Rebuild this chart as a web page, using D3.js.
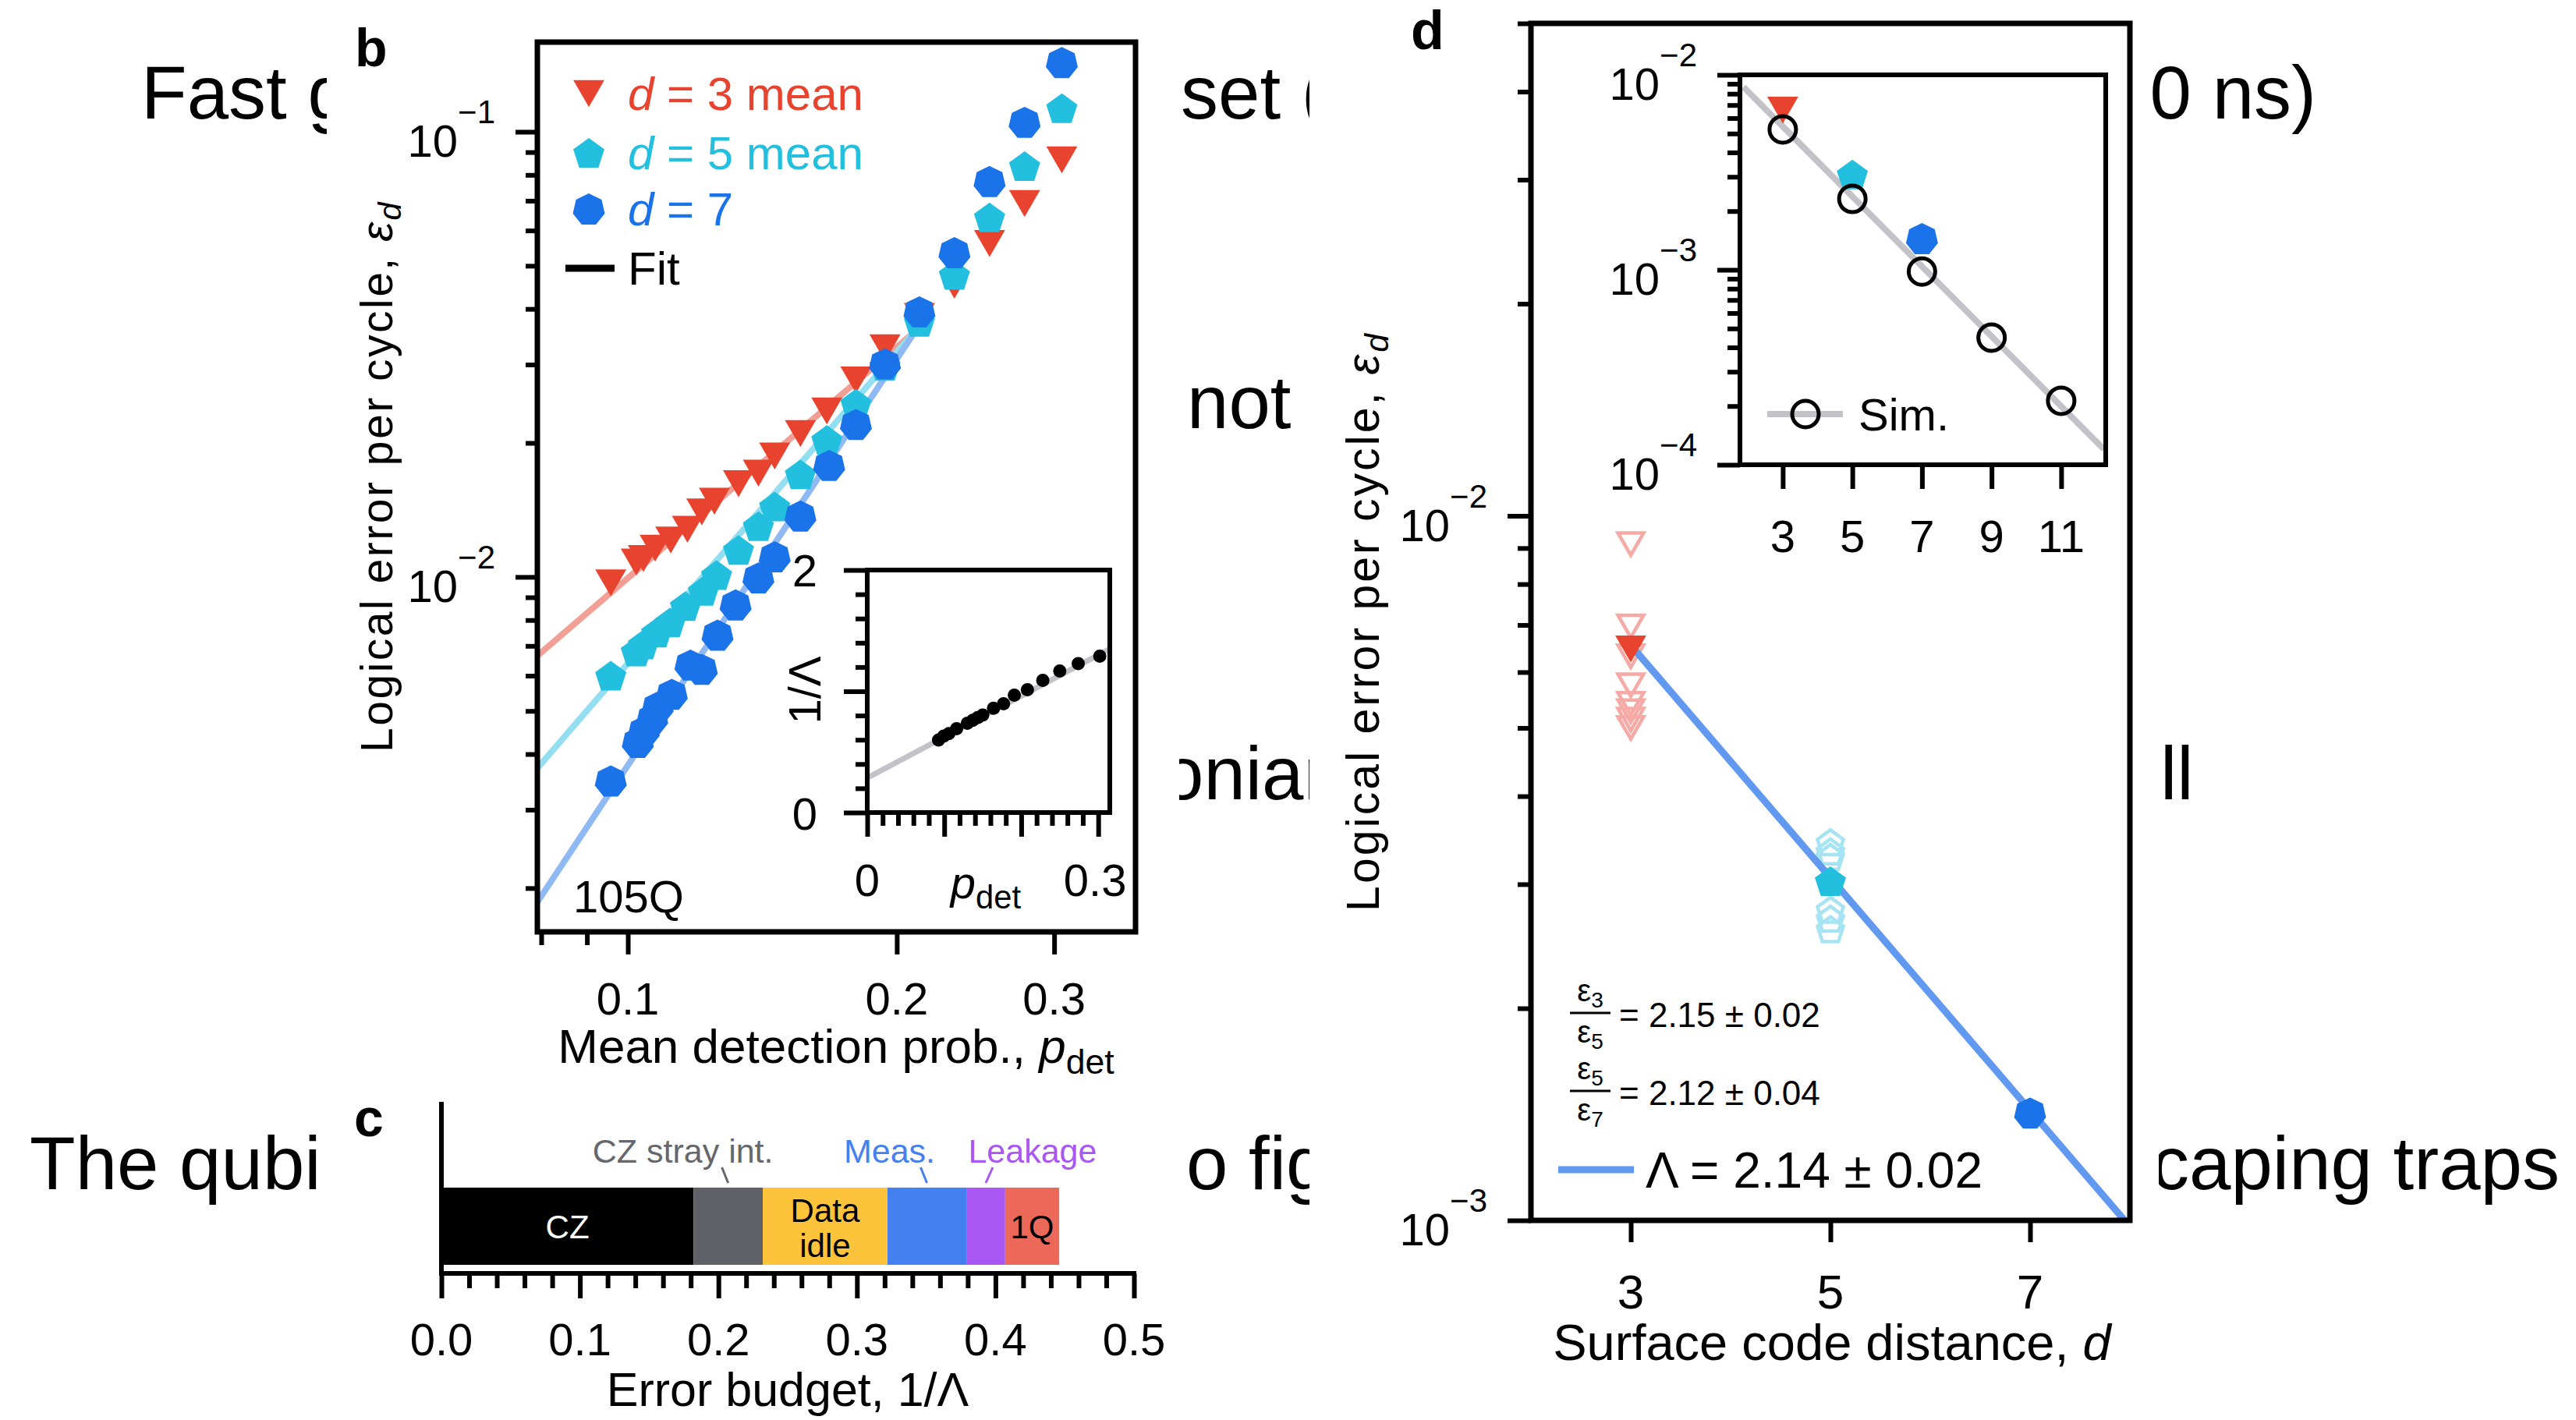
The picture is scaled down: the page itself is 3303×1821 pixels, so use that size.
<!DOCTYPE html>
<html>
<head>
<meta charset="utf-8">
<script src="https://cdn.jsdelivr.net/npm/d3@7"></script>
<style>
html, body { margin: 0; padding: 0; background: #fff; }
svg { display: block; font-family: "Liberation Sans", Arial, Helvetica, sans-serif; }
</style>
</head>
<body>
<svg id="chart" width="3303" height="1821"></svg>
<script>
// panel b: [p_det, eps_d]
const d3Mean = [[0.0957, 0.0097], [0.1022, 0.0108], [0.1041, 0.0110], [0.1073, 0.0116], [0.1117, 0.0121],
  [0.1166, 0.0128], [0.121, 0.0140], [0.125, 0.0148], [0.133, 0.0162], [0.140, 0.0171], [0.146, 0.0187],
  [0.156, 0.0210], [0.167, 0.0236], [0.180, 0.0277], [0.194, 0.0327], [0.212, 0.0385], [0.232, 0.0452],
  [0.254, 0.0561], [0.278, 0.0690], [0.306, 0.0865]];
const d5Mean = [[0.0957, 0.0060], [0.1022, 0.0068], [0.1041, 0.00705], [0.1077, 0.0075], [0.1115, 0.0079],
  [0.116, 0.0086], [0.1215, 0.0093], [0.1257, 0.0101], [0.133, 0.0115], [0.140, 0.0130], [0.146, 0.0144],
  [0.156, 0.0170], [0.167, 0.0203], [0.180, 0.0245], [0.194, 0.0298], [0.212, 0.0374], [0.232, 0.0477],
  [0.254, 0.0642], [0.278, 0.0837], [0.306, 0.113]];
const d7Data = [[0.0957, 0.00348], [0.1026, 0.00425], [0.1042, 0.00450], [0.1065, 0.00480], [0.108, 0.00510],
  [0.112, 0.00545], [0.1175, 0.00634], [0.121, 0.0062], [0.126, 0.0074], [0.132, 0.00865], [0.140, 0.00995],
  [0.146, 0.0111], [0.156, 0.0137], [0.168, 0.0178], [0.180, 0.0220], [0.194, 0.0301], [0.212, 0.0394],
  [0.232, 0.0535], [0.254, 0.0773], [0.278, 0.105], [0.306, 0.143]];
const fitD3 = [[0.0792, 0.00665], [0.212, 0.0363]];
const fitD5 = [[0.0792, 0.00372], [0.217, 0.0387]];
const fitD7 = [[0.0792, 0.00186], [0.214, 0.0379]];
const legendB = ["3 mean", "5 mean", "7", "Fit"];
const xTicksB = [0.1, 0.2, 0.3];
const xTickLabelsB = ["0.1", "0.2", "0.3"];

// inset of b: 1/Lambda vs p_det
const insetP = [0.0926, 0.0993, 0.106, 0.116, 0.13, 0.137, 0.1435, 0.15, 0.164, 0.177, 0.191, 0.208, 0.228, 0.25, 0.274, 0.302];
const insetInvLambda = [0.598, 0.63, 0.651, 0.691, 0.737, 0.761, 0.783, 0.804, 0.86, 0.897, 0.968, 1.013, 1.09, 1.167, 1.229, 1.29];
const insetFit = [[0, 0.285], [0.315, 1.35]];

// panel c: error budget
const budgetLabels = ["CZ", "CZ stray int.", "Data idle", "Meas.", "Leakage", "1Q"];
const budgetValues = [0.182, 0.050, 0.090, 0.057, 0.028, 0.039];
const budgetColors = ["#000000", "#5f6065", "#fdc33b", "#4480f0", "#a957f2", "#ec695a"];
const budgetTicks = [0, 0.1, 0.2, 0.3, 0.4, 0.5];
const budgetTickLabels = ["0.0", "0.1", "0.2", "0.3", "0.4", "0.5"];

// panel d
const distances = [3, 5, 7];
const meanEps = [0.00647, 0.00303, 0.00142];
const hollowD3 = [0.00912, 0.00697, 0.00632, 0.00575, 0.00541, 0.00528, 0.00514, 0.0050];
const hollowD5 = [0.00344, 0.00334, 0.00328, 0.00276, 0.00268, 0.00259];
const lambdaFit = [[3.05, 0.00643], [8, 0.00098]];
const ratioLabels = [["3", "5", "= 2.15 ± 0.02"], ["5", "7", "= 2.12 ± 0.04"]];
const lambdaLabel = "Λ = 2.14 ± 0.02";
const simD = [3, 5, 7, 9, 11];
const simEps = [0.00525, 0.00231, 0.00098, 0.000449, 0.000213];
const simLine = [[1.87, 0.00867], [12.23, 0.00012]];

const pageText = ["Fast g", "set (", "0 ns)", "not", "onian", "ll", "The qubi", "o fig", "caping traps"];

const RED = "#e8432e", CYAN = "#22bfdf", BLUE = "#1a73e8";
const svg = d3.select("#chart");

// page text behind the panels
const pagePos = [[181, 152, "start"], [1514, 152, "start"], [2970, 152, "end"], [1522, 549, "start"],
  [1490, 1025, "start"], [2770, 1025, "start"], [38, 1525, "start"], [1521, 1525, "start"], [3282, 1525, "end"]];
const page = svg.append("g").attr("font-size", 96).attr("fill", "#000");
pageText.forEach((s, i) => {
  page.append("text").attr("x", pagePos[i][0]).attr("y", pagePos[i][1])
    .attr("text-anchor", pagePos[i][2]).text(s);
});
svg.append("rect").attr("x", 419).attr("y", 0).attr("width", 1512 - 419).attr("height", 1821).attr("fill", "#fff");
svg.append("rect").attr("x", 1679).attr("y", 0).attr("width", 2746 - 1679).attr("height", 1821).attr("fill", "#fff");
svg.append("rect").attr("x", 2746).attr("y", 1300).attr("width", 22).attr("height", 521).attr("fill", "#fff");

function polygon(n, r, down) {
  const pts = d3.range(n).map(i => {
    const a = (down ? Math.PI / 2 : -Math.PI / 2) + i * 2 * Math.PI / n;
    return [r * Math.cos(a), r * Math.sin(a)];
  });
  const off = (d3.max(pts, p => p[1]) + d3.min(pts, p => p[1])) / 2;
  return "M" + pts.map(p => p[0].toFixed(2) + "," + (p[1] - off).toFixed(2)).join("L") + "Z";
}
const tri = polygon(3, 23, true), pent = polygon(5, 21), hept = polygon(7, 21);

function ticks(g, axisFn, scale, values, size, tx, ty) {
  const a = g.append("g").attr("transform", `translate(${tx},${ty})`)
    .call(axisFn(scale).tickValues(values).tickSize(size).tickSizeOuter(0).tickFormat(""));
  a.select(".domain").remove();
  a.selectAll("line").attr("stroke", "#000").attr("stroke-width", 6);
}
function powLabel(g, x, y, exp) {
  const t = g.append("text").attr("x", x).attr("y", y + 32).attr("text-anchor", "end").attr("font-size", 58);
  t.append("tspan").text("10");
  t.append("tspan").attr("dy", -43).attr("font-size", 42).text("−" + exp);
}
function pdet(t, size) {
  t.append("tspan").attr("font-style", "italic").text("p");
  t.append("tspan").attr("font-size", size * 0.72).attr("dy", size * 0.22).text("det");
}
function epsLabel(t, size) {
  t.append("tspan").text("Logical error per cycle, ");
  t.append("tspan").attr("font-style", "italic").text("ε");
  t.append("tspan").attr("font-style", "italic").attr("font-size", size * 0.72).attr("dy", size * 0.2).text("d");
}
function minors(decades) {
  const out = [];
  decades.forEach(dec => d3.range(2, 10).forEach(k => out.push(k * dec)));
  return out;
}

// ---------------- panel b ----------------
const gb = svg.append("g");
const bx = d3.scaleLog().domain([0.0792, 0.37]).range([689, 1456]);
const by = d3.scaleLog().domain([0.001595, 0.159]).range([1195, 54]);
gb.append("text").attr("x", 455).attr("y", 85).attr("font-size", 68).attr("font-weight", "bold").text("b");

const lineB = d3.line().x(d => bx(d[0])).y(d => by(d[1]));
[[fitD3, "#f2a095"], [fitD5, "#93def0"], [fitD7, "#8fb9f3"]].forEach(f => {
  gb.append("path").attr("d", lineB(f[0])).attr("fill", "none").attr("stroke", f[1]).attr("stroke-width", 8);
});
[[d3Mean, tri, RED], [d5Mean, pent, CYAN], [d7Data, hept, BLUE]].forEach(s => {
  gb.append("g").selectAll("path").data(s[0]).enter().append("path")
    .attr("d", s[1]).attr("fill", s[2])
    .attr("transform", d => `translate(${bx(d[0])},${by(d[1])})`);
});

ticks(gb, d3.axisLeft, by, [0.01, 0.1], 28, 689, 0);
ticks(gb, d3.axisLeft, by, minors([0.001, 0.01]), 15, 689, 0);
ticks(gb, d3.axisBottom, bx, xTicksB, 29, 0, 1195);
ticks(gb, d3.axisBottom, bx, [0.08, 0.09], 17, 0, 1195);
gb.append("rect").attr("x", 689).attr("y", 54).attr("width", 1456 - 689).attr("height", 1195 - 54)
  .attr("fill", "none").attr("stroke", "#000").attr("stroke-width", 7);
powLabel(gb, 635, by(0.1), 1);
powLabel(gb, 635, by(0.01), 2);
xTicksB.forEach((v, i) => {
  gb.append("text").attr("x", bx(v)).attr("y", 1301).attr("text-anchor", "middle").attr("font-size", 58).text(xTickLabelsB[i]);
});
const xlb = gb.append("text").attr("x", 1072).attr("y", 1363).attr("text-anchor", "middle").attr("font-size", 62);
xlb.append("tspan").text("Mean detection prob., ");
pdet(xlb, 62);
const ylb = gb.append("text").attr("transform", "translate(503,611) rotate(-90)")
  .attr("text-anchor", "middle").attr("font-size", 57).attr("letter-spacing", 2.5);
epsLabel(ylb, 57);
gb.append("text").attr("x", 735).attr("y", 1170).attr("font-size", 58).text("105Q");

// legend b
const legY = [120, 196, 268, 344];
[[tri, RED], [pent, CYAN], [hept, BLUE]].forEach((m, i) => {
  gb.append("path").attr("d", m[0]).attr("fill", m[1]).attr("transform", `translate(755,${legY[i]})`);
  const t = gb.append("text").attr("x", 805).attr("y", legY[i] + 21).attr("font-size", 60).attr("fill", m[1]);
  t.append("tspan").attr("font-style", "italic").text("d");
  t.append("tspan").text(" = " + legendB[i]);
});
gb.append("line").attr("x1", 725).attr("x2", 788).attr("y1", legY[3]).attr("y2", legY[3])
  .attr("stroke", "#000").attr("stroke-width", 9);
gb.append("text").attr("x", 805).attr("y", legY[3] + 21).attr("font-size", 60).text(legendB[3]);

// inset of b
const ix = d3.scaleLinear().domain([0, 0.315]).range([1112, 1423]);
const iy = d3.scaleLinear().domain([0, 2]).range([1042, 731]);
gb.append("rect").attr("x", 1112).attr("y", 731).attr("width", 311).attr("height", 311).attr("fill", "#fff");
gb.append("path").attr("d", d3.line().x(d => ix(d[0])).y(d => iy(d[1]))(insetFit))
  .attr("stroke", "#c2c2c8").attr("stroke-width", 7).attr("fill", "none");
gb.append("g").selectAll("circle").data(insetP).enter().append("circle")
  .attr("cx", d => ix(d)).attr("cy", (d, i) => iy(insetInvLambda[i])).attr("r", 8.5).attr("fill", "#000");
ticks(gb, d3.axisLeft, iy, [0, 1, 2], 30, 1112, 0);
ticks(gb, d3.axisLeft, iy, [0.2, 0.4, 0.6, 0.8, 1.2, 1.4, 1.6, 1.8], 15, 1112, 0);
ticks(gb, d3.axisBottom, ix, [0, 0.1, 0.2, 0.3], 31, 0, 1042);
ticks(gb, d3.axisBottom, ix, d3.range(1, 15).filter(k => k % 5 !== 0).map(k => k * 0.02), 17, 0, 1042);
gb.append("rect").attr("x", 1112).attr("y", 731).attr("width", 311).attr("height", 311)
  .attr("fill", "none").attr("stroke", "#000").attr("stroke-width", 6);
[[2, 752], [0, 1064]].forEach(l => {
  gb.append("text").attr("x", 1032).attr("y", l[1]).attr("text-anchor", "middle").attr("font-size", 58).text(l[0]);
});
gb.append("text").attr("transform", "translate(1052,885) rotate(-90)").attr("text-anchor", "middle")
  .attr("font-size", 58).text("1/Λ");
gb.append("text").attr("x", ix(0)).attr("y", 1149).attr("text-anchor", "middle").attr("font-size", 58).text("0");
gb.append("text").attr("x", ix(0.3) - 4).attr("y", 1149).attr("text-anchor", "middle").attr("font-size", 58).text("0.3");
pdet(gb.append("text").attr("x", 1264).attr("y", 1152).attr("text-anchor", "middle").attr("font-size", 58), 58);

// ---------------- panel c ----------------
const gc = svg.append("g");
const cxs = d3.scaleLinear().domain([0, 0.5]).range([566, 1454]);
gc.append("text").attr("x", 454).attr("y", 1457).attr("font-size", 68).attr("font-weight", "bold").text("c");
let acc = 0;
const segs = budgetValues.map((v, i) => { const s = { x0: acc, x1: acc + v, i: i }; acc += v; return s; });
gc.selectAll("rect.seg").data(segs).enter().append("rect")
  .attr("x", d => cxs(d.x0)).attr("width", d => cxs(d.x1) - cxs(d.x0))
  .attr("y", 1523).attr("height", 99).attr("fill", d => budgetColors[d.i]);
gc.append("line").attr("x1", 566).attr("x2", 566).attr("y1", 1413).attr("y2", 1636)
  .attr("stroke", "#000").attr("stroke-width", 6);
gc.append("line").attr("x1", 563).attr("x2", 1457).attr("y1", 1633).attr("y2", 1633)
  .attr("stroke", "#000").attr("stroke-width", 6);
ticks(gc, d3.axisBottom, cxs, budgetTicks, 32, 0, 1633);
ticks(gc, d3.axisBottom, cxs, d3.range(1, 25).filter(k => k % 5 !== 0).map(k => k * 0.02), 19, 0, 1633);
budgetTicks.forEach((v, i) => {
  gc.append("text").attr("x", cxs(v)).attr("y", 1738).attr("text-anchor", "middle").attr("font-size", 58).text(budgetTickLabels[i]);
});
gc.append("text").attr("x", 1010).attr("y", 1803).attr("text-anchor", "middle").attr("font-size", 61).text("Error budget, 1/Λ");
const mid = d => (cxs(d.x0) + cxs(d.x1)) / 2;
gc.append("text").attr("x", mid(segs[0])).attr("y", 1588).attr("text-anchor", "middle")
  .attr("font-size", 42).attr("fill", "#fff").text(budgetLabels[0]);
const di = budgetLabels[2].split(" ");
gc.append("text").attr("x", mid(segs[2])).attr("y", 1567).attr("text-anchor", "middle").attr("font-size", 42).text(di[0]);
gc.append("text").attr("x", mid(segs[2])).attr("y", 1612).attr("text-anchor", "middle").attr("font-size", 42).text(di[1]);
gc.append("text").attr("x", mid(segs[5])).attr("y", 1588).attr("text-anchor", "middle").attr("font-size", 42).text(budgetLabels[5]);
[[1, "#66676b", -58, -8], [3, "#4480f0", -48, -8], [4, "#a957f2", 60, 9]].forEach(a => {
  const s = segs[a[0]], m = mid(s);
  gc.append("text").attr("x", m + a[2]).attr("y", 1491).attr("text-anchor", "middle")
    .attr("font-size", 43).attr("fill", a[1]).text(budgetLabels[a[0]]);
  gc.append("line").attr("x1", m + a[3]).attr("x2", m).attr("y1", 1497).attr("y2", 1517)
    .attr("stroke", a[1]).attr("stroke-width", 3);
});

// ---------------- panel d ----------------
const gd = svg.append("g");
const dx = d3.scaleLinear().domain([2, 8]).range([1963, 2731]);
const dy = d3.scaleLog().domain([0.001, 0.05]).range([1565, 30]);
gd.append("text").attr("x", 1809).attr("y", 63).attr("font-size", 70).attr("font-weight", "bold").text("d");
gd.append("clipPath").attr("id", "clipD").append("rect")
  .attr("x", 1963).attr("y", 30).attr("width", 768).attr("height", 1535);

const triH = polygon(3, 19, true), pentH = polygon(5, 17.5);
gd.append("g").selectAll("path").data(hollowD3).enter().append("path")
  .attr("d", triH).attr("fill", "none").attr("stroke", "#f5aaa6").attr("stroke-width", 4.5)
  .attr("transform", d => `translate(${dx(3)},${dy(d)})`);
gd.append("g").selectAll("path").data(hollowD5).enter().append("path")
  .attr("d", pentH).attr("fill", "none").attr("stroke", "#a6e4f3").attr("stroke-width", 4.5)
  .attr("transform", d => `translate(${dx(5)},${dy(d)})`);
gd.append("path").attr("clip-path", "url(#clipD)")
  .attr("d", d3.line().x(d => dx(d[0])).y(d => dy(d[1]))(lambdaFit))
  .attr("fill", "none").attr("stroke", "#6199f0").attr("stroke-width", 9);
const shapesD = [[tri, RED], [pent, CYAN], [hept, BLUE]];
distances.forEach((dd, i) => {
  gd.append("path").attr("d", shapesD[i][0]).attr("fill", shapesD[i][1])
    .attr("transform", `translate(${dx(dd)},${dy(meanEps[i])})`);
});

ticks(gd, d3.axisLeft, dy, [0.001, 0.01], 30, 1963, 0);
ticks(gd, d3.axisLeft, dy, minors([0.001]).concat([0.02, 0.03, 0.04, 0.05]), 17, 1963, 0);
ticks(gd, d3.axisBottom, dx, distances, 28, 0, 1565);
gd.append("rect").attr("x", 1963).attr("y", 30).attr("width", 768).attr("height", 1535)
  .attr("fill", "none").attr("stroke", "#000").attr("stroke-width", 7);
powLabel(gd, 1907, dy(0.01), 2);
powLabel(gd, 1907, dy(0.001), 3);
distances.forEach(dd => {
  gd.append("text").attr("x", dx(dd)).attr("y", 1678).attr("text-anchor", "middle").attr("font-size", 62).text(dd);
});
const xld = gd.append("text").attr("x", 2349).attr("y", 1744).attr("text-anchor", "middle").attr("font-size", 65);
xld.append("tspan").text("Surface code distance, ");
xld.append("tspan").attr("font-style", "italic").text("d");
const yld = gd.append("text").attr("transform", "translate(1768,797) rotate(-90)")
  .attr("text-anchor", "middle").attr("font-size", 59).attr("letter-spacing", 3);
epsLabel(yld, 59);

// ratio annotations
ratioLabels.forEach((r, i) => {
  const y0 = 1299 + i * 100;
  [[r[0], y0 - 15], [r[1], y0 + 38]].forEach(n => {
    const t = gd.append("text").attr("x", 2039).attr("y", n[1]).attr("text-anchor", "middle").attr("font-size", 40);
    t.append("tspan").text("ε");
    t.append("tspan").attr("font-size", 28).attr("dy", 8).text(n[0]);
  });
  gd.append("line").attr("x1", 2013).attr("x2", 2065).attr("y1", y0).attr("y2", y0).attr("stroke", "#000").attr("stroke-width", 3);
  gd.append("text").attr("x", 2076).attr("y", y0 + 18).attr("font-size", 44).text(r[2]);
});
gd.append("line").attr("x1", 1998).attr("x2", 2095).attr("y1", 1500).attr("y2", 1500)
  .attr("stroke", "#6199f0").attr("stroke-width", 9);
gd.append("text").attr("x", 2110).attr("y", 1523).attr("font-size", 64).text(lambdaLabel);

// inset of d
const sx = d3.scaleLinear().domain([1.77, 12.28]).range([2231, 2700]);
const sy = d3.scaleLog().domain([0.0001, 0.01]).range([596, 96]);
gd.append("rect").attr("x", 2231).attr("y", 96).attr("width", 469).attr("height", 500).attr("fill", "#fff");
gd.append("path").attr("d", d3.line().x(d => sx(d[0])).y(d => sy(d[1]))(simLine))
  .attr("fill", "none").attr("stroke", "#c2c2c8").attr("stroke-width", 8);
distances.forEach((dd, i) => {
  gd.append("path").attr("d", shapesD[i][0]).attr("fill", shapesD[i][1])
    .attr("transform", `translate(${sx(dd)},${sy(meanEps[i]) - 2})`);
});
gd.append("g").selectAll("circle").data(simD).enter().append("circle")
  .attr("cx", d => sx(d)).attr("cy", (d, i) => sy(simEps[i])).attr("r", 17)
  .attr("fill", "none").attr("stroke", "#000").attr("stroke-width", 5);
ticks(gd, d3.axisLeft, sy, [0.0001, 0.001, 0.01], 29, 2231, 0);
ticks(gd, d3.axisLeft, sy, minors([0.0001, 0.001]), 16, 2231, 0);
ticks(gd, d3.axisBottom, sx, simD, 31, 0, 596);
gd.append("rect").attr("x", 2231).attr("y", 96).attr("width", 469).attr("height", 500)
  .attr("fill", "none").attr("stroke", "#000").attr("stroke-width", 6);
[[0.01, 2], [0.001, 3], [0.0001, 4]].forEach(p => powLabel(gd, 2176, sy(p[0]), p[1]));
simD.forEach(dd => {
  gd.append("text").attr("x", sx(dd)).attr("y", 708).attr("text-anchor", "middle").attr("font-size", 58).text(dd);
});
gd.append("line").attr("x1", 2266).attr("x2", 2363).attr("y1", 531).attr("y2", 531)
  .attr("stroke", "#c2c2c8").attr("stroke-width", 8);
gd.append("circle").attr("cx", 2315).attr("cy", 531).attr("r", 17)
  .attr("fill", "none").attr("stroke", "#000").attr("stroke-width", 5);
gd.append("text").attr("x", 2383).attr("y", 552).attr("font-size", 58).text("Sim.");
</script>
</body>
</html>
